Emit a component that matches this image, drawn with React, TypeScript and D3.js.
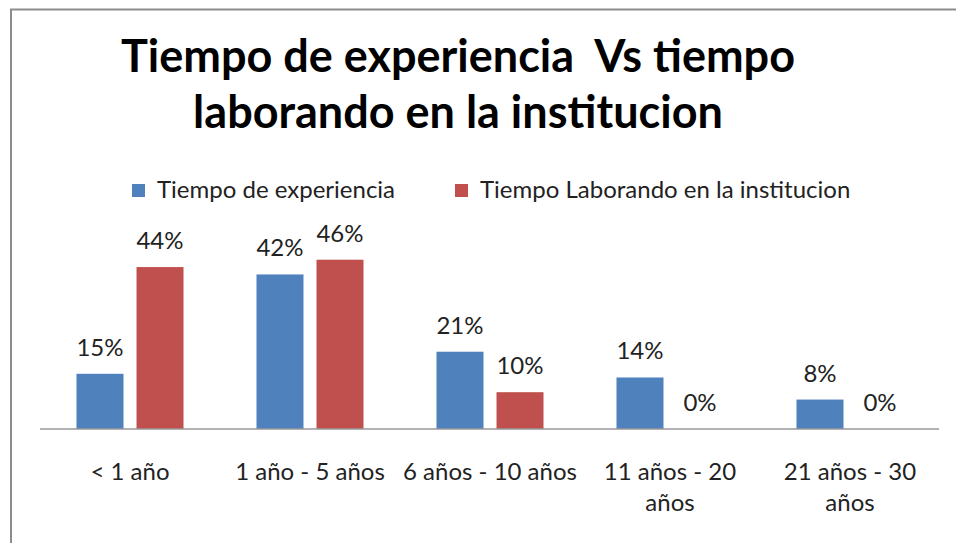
import React from 'react'
import * as d3 from 'd3'

const categories = [['< 1 año'], ['1 año - 5 años'], ['6 años - 10 años'], ['11 años - 20', 'años'], ['21 años - 30', 'años']]
const seriesNames = ['Tiempo de experiencia', 'Tiempo Laborando en la institucion']
const experiencia = [15, 42, 21, 14, 8]
const laborando = [44, 46, 10, 0, 0]
const colors = ['#4F81BD', '#C0504D']
const titleLines = ['Tiempo de experiencia  Vs tiempo', 'laborando en la institucion']

const W = 956
const H = 543
const plot = { left: 40, right: 940, top: 245, bottom: 429 }
const font = 'Lato, "Open Sans", sans-serif'

const App = () => {
  const x0 = d3.scaleBand().domain(d3.range(categories.length).map(String)).range([plot.left, plot.right]).paddingInner(0).paddingOuter(0)
  const x1 = d3.scaleBand().domain(['0', '1']).range([0, x0.bandwidth()]).paddingInner(0.2167).paddingOuter(0.608)
  const y = d3.scaleLinear().domain([0, 50]).range([plot.bottom, plot.top])
  const series = [experiencia, laborando]

  return (
    <svg width={W} height={H} style={{ display: 'block', position: 'absolute', left: 0, top: 0 }}>
      <rect x={0} y={0} width={W} height={H} fill='#fff' />
      <path d={`M11,${H} V9.5 H${W}`} fill='none' stroke='#8c8c8c' strokeWidth={2} />
      {titleLines.map((t, i) => (
        <text key={i} x={458} y={72 + i * 56} textAnchor='middle' fontFamily={font} fontWeight='bold' fontSize={45} fill='#000' style={{ whiteSpace: 'pre' }}>{t}</text>
      ))}
      <g fontFamily={font} fontSize={24} fill='#222'>
        {seriesNames.map((s, i) => {
          const lx = i === 0 ? 132 : 455
          return (
            <g key={s}>
              <rect x={lx} y={184} width={13} height={13} fill={colors[i]} />
              <text x={lx + 25} y={198}>{s}</text>
            </g>
          )
        })}
      </g>
      {series.map((vals, si) => (
        <g key={si}>
          {vals.map((v, ci) => {
            const bx = (x0(String(ci)) || 0) + (x1(String(si)) || 0)
            return (
              <g key={ci}>
                {v > 0 && <rect x={bx} y={y(v)} width={x1.bandwidth()} height={y(0) - y(v)} fill={colors[si]} />}
                <text x={bx + x1.bandwidth() / 2} y={y(v) - 18} textAnchor='middle' fontFamily={font} fontSize={24} fill='#222'>{v}%</text>
              </g>
            )
          })}
        </g>
      ))}
      <line x1={plot.left} x2={plot.right - 1} y1={plot.bottom} y2={plot.bottom} stroke='#999' strokeWidth={1.5} />
      {categories.map((lines, ci) => (
        <text key={ci} textAnchor='middle' fontFamily={font} fontSize={24} fill='#222'>
          {lines.map((l, li) => (
            <tspan key={li} x={(x0(String(ci)) || 0) + x0.bandwidth() / 2} y={480 + li * 31}>{l}</tspan>
          ))}
        </text>
      ))}
    </svg>
  )
}

export default App
